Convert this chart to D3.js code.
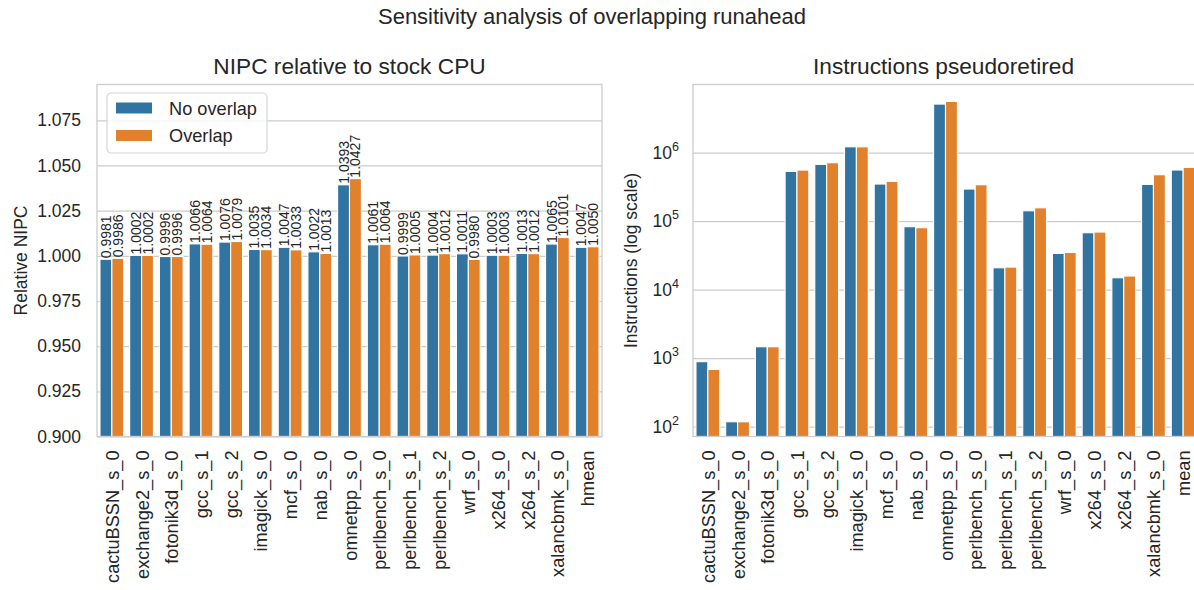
<!DOCTYPE html>
<html>
<head>
<meta charset="utf-8">
<script src="https://cdn.jsdelivr.net/npm/d3@7"></script>
<style>
  body { margin: 0; background: #fff; }
  svg { display: block; font-family: "Liberation Sans", Arial, sans-serif; }
</style>
</head>
<body>
<svg id="chart" width="1194" height="590"></svg>
<script>
// Benchmarks (SPEC CPU2017 simpoints)
const benchmarks = ["cactuBSSN_s_0", "exchange2_s_0", "fotonik3d_s_0", "gcc_s_1", "gcc_s_2",
  "imagick_s_0", "mcf_s_0", "nab_s_0", "omnetpp_s_0", "perlbench_s_0", "perlbench_s_1",
  "perlbench_s_2", "wrf_s_0", "x264_s_0", "x264_s_2", "xalancbmk_s_0"];
const nipcCategories = benchmarks.concat(["hmean"]);
const instrCategories = benchmarks.concat(["mean"]);
const seriesNames = ["No overlap", "Overlap"];

// Normalised IPC relative to the stock core
const nipcNoOverlap = [0.9981, 1.0002, 0.9996, 1.0066, 1.0076, 1.0035, 1.0047, 1.0022, 1.0393,
  1.0061, 0.9999, 1.0004, 1.0011, 1.0003, 1.0013, 1.0065, 1.0047];
const nipcOverlap = [0.9986, 1.0002, 0.9996, 1.0064, 1.0079, 1.0034, 1.0033, 1.0013, 1.0427,
  1.0064, 1.0005, 1.0012, 0.9980, 1.0003, 1.0012, 1.0101, 1.0050];

// Instructions pseudoretired during runahead
const instrNoOverlap = [890, 118, 1470, 534000, 676000, 1220000, 349000, 83200, 5130000,
  295000, 20900, 142000, 33900, 67900, 14950, 345000, 559000];
const instrOverlap = [687, 118, 1470, 558000, 714000, 1220000, 382000, 80400, 5610000,
  341000, 21400, 157000, 35000, 69500, 15850, 477000, 611000];

const nipcTicks = [0.900, 0.925, 0.950, 0.975, 1.000, 1.025, 1.050, 1.075];
const instrTicks = [1e2, 1e3, 1e4, 1e5, 1e6];

const colors = ["#3274a1", "#e1812c"];
const textColor = "#262626";
const gridColor = "#cccccc";

const svg = d3.select("#chart");

// Figure title
svg.append("text")
  .attr("x", 592).attr("y", 24)
  .attr("text-anchor", "middle")
  .attr("font-size", 22).attr("fill", textColor)
  .text("Sensitivity analysis of overlapping runahead");

const axTop = 84.5, axBottom = 436.5;

function panel(opts) {
  const g = svg.append("g");
  const x = d3.scaleBand().domain(opts.categories)
    .range([opts.left, opts.right]).paddingInner(0.2).paddingOuter(0.1);
  const xs = d3.scaleBand().domain(seriesNames).range([0, x.bandwidth()]);
  const y = opts.y;

  // clip to the axes area
  const clipId = "clip-" + opts.id;
  svg.append("clipPath").attr("id", clipId).append("rect")
    .attr("x", opts.left).attr("y", axTop)
    .attr("width", opts.right - opts.left).attr("height", axBottom - axTop);

  // horizontal grid
  const yAxis = d3.axisLeft(y).tickValues(opts.ticks).tickSize(-(opts.right - opts.left))
    .tickPadding(16).tickFormat(opts.tickFormat);
  const ya = g.append("g").attr("transform", `translate(${opts.left},0)`).call(yAxis);
  ya.select(".domain").remove();
  ya.selectAll(".tick line").attr("stroke", gridColor).attr("stroke-width", 1.2);
  ya.selectAll(".tick text").attr("fill", textColor).attr("font-size", 17.5)
    .attr("font-family", "Liberation Sans, Arial, sans-serif");

  // bars
  const data = [];
  opts.categories.forEach((c, i) => {
    seriesNames.forEach((s, j) => data.push({ cat: c, series: s, j, v: opts.values[j][i] }));
  });
  const bars = g.append("g").attr("clip-path", `url(#${clipId})`);
  bars.selectAll("rect").data(data).join("rect")
    .attr("x", d => x(d.cat) + xs(d.series))
    .attr("width", xs.bandwidth())
    .attr("y", d => y(d.v))
    .attr("height", d => y.range()[0] - y(d.v))
    .attr("fill", d => colors[d.j])
    .attr("stroke", "#ffffff").attr("stroke-width", 1.1);

  if (opts.labels) {
    g.append("g").selectAll("text").data(data).join("text")
      .attr("transform", d => `translate(${x(d.cat) + xs(d.series) + xs.bandwidth() / 2 + 5},${y(d.v) - 1}) rotate(-90)`)
      .attr("font-size", 14).attr("fill", textColor)
      .text(d => d3.format(".4f")(d.v));
  }

  // spines
  g.append("rect")
    .attr("x", opts.left).attr("y", axTop)
    .attr("width", opts.right - opts.left).attr("height", axBottom - axTop)
    .attr("fill", "none").attr("stroke", gridColor).attr("stroke-width", 1.3);

  // category labels
  g.append("g").selectAll("text").data(opts.categories).join("text")
    .attr("transform", c => `translate(${x(c) + x.bandwidth() / 2 + 7},${axBottom + 14}) rotate(-90)`)
    .attr("text-anchor", "end")
    .attr("font-size", 18.2).attr("fill", textColor)
    .text(c => c);

  // panel title
  svg.append("text")
    .attr("x", (opts.left + opts.right) / 2 + (opts.titleDx || 0)).attr("y", 74)
    .attr("text-anchor", "middle").attr("font-size", 22.7).attr("fill", textColor)
    .text(opts.title);

  // y axis label
  svg.append("text")
    .attr("transform", `translate(${opts.ylabelX},${(axTop + axBottom) / 2}) rotate(-90)`)
    .attr("text-anchor", "middle").attr("font-size", 17.5).attr("fill", textColor)
    .text(opts.ylabel);

  return { g, x, y };
}

// Left: relative NIPC
const yNipc = d3.scaleLinear().domain([0.9, 1.0948]).range([axBottom, axTop]);
const leftPanel = panel({
  id: "nipc", categories: nipcCategories, left: 97, right: 602, y: yNipc,
  ticks: nipcTicks, tickFormat: d3.format(".3f"),
  values: [nipcNoOverlap, nipcOverlap], labels: true,
  title: "NIPC relative to stock CPU", ylabel: "Relative NIPC", ylabelX: 27
});

// Right: instructions pseudoretired (log scale)
const yInstr = d3.scaleLog().domain([Math.pow(10, 1.857), Math.pow(10, 6.996)]).range([axBottom, axTop]);
const rightPanel = panel({
  id: "instr", categories: instrCategories, left: 693, right: 1198, y: yInstr,
  ticks: instrTicks, tickFormat: () => "",
  values: [instrNoOverlap, instrOverlap], labels: false,
  title: "Instructions pseudoretired", ylabel: "Instructions (log scale)", ylabelX: 637,
  titleDx: -2
});

// power-of-ten tick labels with superscript exponents
rightPanel.g.selectAll(".tick text").each(function (d) {
  const t = d3.select(this).attr("x", -14).text("");
  t.append("tspan").text("10");
  t.append("tspan").attr("dy", -8).attr("font-size", 12.5).text(Math.round(Math.log10(d)));
});

// legend
const legend = svg.append("g").attr("transform", "translate(107,93)");
legend.append("rect").attr("width", 160).attr("height", 60).attr("rx", 4)
  .attr("fill", "#ffffff").attr("fill-opacity", 0.8)
  .attr("stroke", "#d6d6d6").attr("stroke-width", 1.2);
seriesNames.forEach((s, i) => {
  const row = legend.append("g").attr("transform", `translate(0,${15 + i * 27.5})`);
  row.append("rect").attr("x", 9).attr("y", -5.5).attr("width", 36).attr("height", 11)
    .attr("fill", colors[i]);
  row.append("text").attr("x", 62).attr("y", 6.5)
    .attr("font-size", 18.2).attr("fill", textColor).text(s);
});
</script>
</body>
</html>
